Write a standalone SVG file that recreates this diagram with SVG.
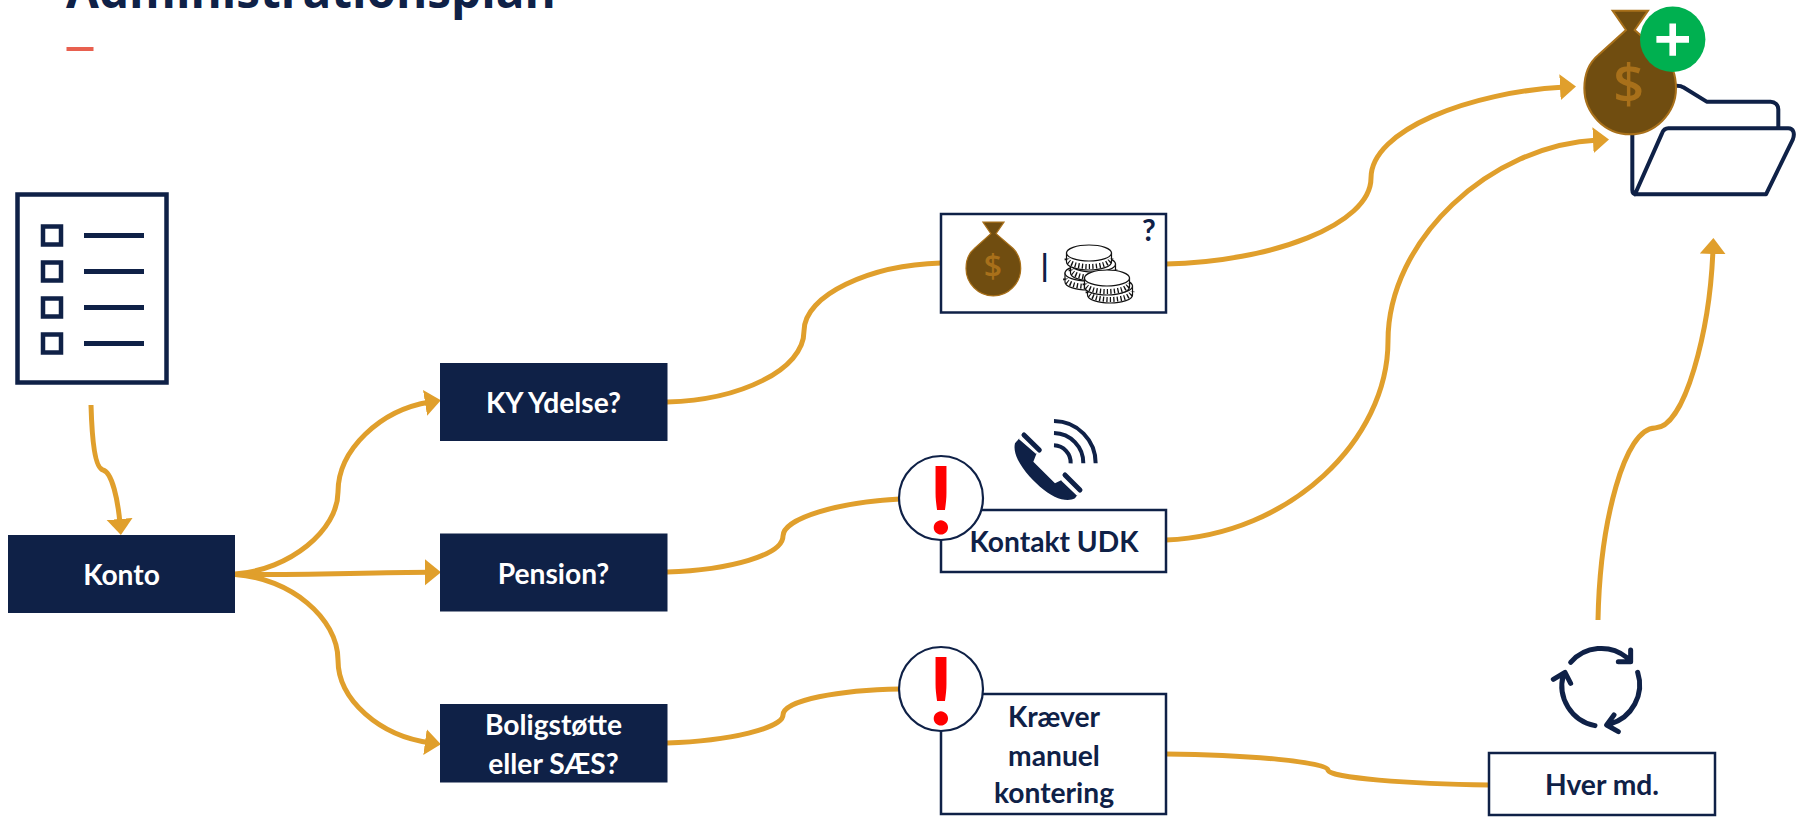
<svg xmlns="http://www.w3.org/2000/svg" xmlns:xlink="http://www.w3.org/1999/xlink" width="1796" height="817" viewBox="0 0 1796 817">
<style>
.lbl{font-family:"Lato","Noto Sans",sans-serif;font-weight:700;font-size:28.200px;text-anchor:middle}
.w{fill:#fff}.n{fill:#0f2147}
.box{fill:#0f2147}
.obox{fill:#fff;stroke:#0f2147;stroke-width:2.5}
.conn{fill:none;stroke:#e09f2c;stroke-width:5}
.ic{fill:none;stroke:#0f2147;stroke-linecap:round;stroke-linejoin:round}
.dollar{font-family:"Open Sans",sans-serif;font-weight:600;fill:#a8701a;text-anchor:middle}
.excl{font-family:"Lato",sans-serif;font-weight:700;font-size:94px;fill:#f00;text-anchor:middle}
.al{fill:#fff;stroke:#0f2147;stroke-width:2.2}
.cs{fill:#fff;stroke:#111;stroke-width:1.2}
</style>
<defs>
<marker id="ah" markerUnits="userSpaceOnUse" markerWidth="18" markerHeight="28" refX="5" refY="13" orient="auto"><path d="M0 0L16 13L0 26Z" fill="#e09f2c"/></marker>
<path id="bag" d="M278 32H384L344 90L430 165C455 190 468 225 468 265C468 340 405 403 330 403C255 403 193 340 193 265C193 225 205 190 235 165L318 90Z" fill="#704d10" stroke="#a8701a" stroke-width="6"/>
<g id="coin"><path class="cs" d="M-22.500 0V9A22.500 8 0 0 0 22.500 9V0Z"/><path d="M-22 5.500A22 8 0 0 0 22 5.500" fill="none" stroke="#111" stroke-width="5" stroke-dasharray="1.300 2.200"/><ellipse class="cs" rx="22.500" ry="8"/></g>
</defs>

<g id="title">
<text x="66" y="8" font-family="Open Sans, sans-serif" font-weight="700" font-size="47.700" fill="#0f2147">Administrationsplan</text>
<rect x="66.500" y="47" width="27" height="4" fill="#e8604f"/>
</g>

<g id="connectors" class="conn-group">
<path class="conn" marker-end="url(#ah)" d="M91 405C92 440 95 468 103 470C112 472 118 500 120 524"/>
<path class="conn" marker-end="url(#ah)" d="M235 574C290 570 338 530 338 492C338 450 380 410 430 402"/>
<path class="conn" marker-end="url(#ah)" d="M235 574.500C300 575 370 572.500 430 572.300"/>
<path class="conn" marker-end="url(#ah)" d="M235 574.500C290 578 338 618 338 660C338 700 380 736 430 742.700"/>
<path class="conn" d="M667 402C740 400 804 370 804 331C804 295 870 265 941 263"/>
<path class="conn" marker-end="url(#ah)" d="M1166 264C1270 262 1371 225 1371 178C1371 130 1470 92 1565 87"/>
<path class="conn" marker-end="url(#ah)" d="M1166 540C1290 535 1388 440 1388 341C1388 240 1490 145 1598 140"/>
<path class="conn" d="M667 572C730 570 783 555 783 536C783 518 840 502 900 499"/>
<path class="conn" d="M667 743C730 741 783 728 783 715C783 700 840 690 900 689"/>
<path class="conn" d="M1166 754C1250 755 1328 762 1328 770C1328 778 1410 784 1489 785"/>
<path class="conn" marker-end="url(#ah)" d="M1598 620C1600 520 1625 428 1655 428C1685 428 1710 330 1713 249"/>
</g>

<g id="checklist">
<rect x="17.500" y="194.500" width="149" height="188" fill="#fff" stroke="#0f2147" stroke-width="4.500"/>
<g fill="none" stroke="#0f2147" stroke-width="4.500">
<rect x="43" y="226.500" width="18" height="18"/><rect x="43" y="262.500" width="18" height="18"/><rect x="43" y="298.500" width="18" height="18"/><rect x="43" y="334.500" width="18" height="18"/>
<path d="M84 235.500H144M84 271.500H144M84 307.500H144M84 343.500H144" stroke-width="5"/>
</g>
</g>

<g id="konto"><rect class="box" x="8" y="535" width="227" height="78"/><text class="lbl w" x="121.500" y="585">Konto</text></g>
<g id="ky-ydelse"><rect class="box" x="440" y="363" width="227.500" height="78"/><text class="lbl w" x="553.500" y="413">KY Ydelse?</text></g>
<g id="pension"><rect class="box" x="440" y="533.500" width="227.500" height="78"/><text class="lbl w" x="553.500" y="583.500">Pension?</text></g>
<g id="boligstotte"><rect class="box" x="440" y="704" width="227.500" height="78.500"/><text class="lbl w" x="553.500" y="735">Boligstøtte</text><text class="lbl w" x="553.500" y="774">eller SÆS?</text></g>

<g id="money-box">
<rect class="obox" x="941" y="214" width="225" height="98.500"/>
<use xlink:href="#bag" transform="translate(927.600 215.700) scale(.199)"/>
<text class="dollar" x="993" y="278" font-size="32">$</text>
<text x="1044.700" y="277" font-family="Lato,sans-serif" font-weight="700" font-size="30" fill="#0f2147" text-anchor="middle">|</text>
<text x="1149" y="241" font-family="Lato,sans-serif" font-weight="700" font-size="30" fill="#0f2147" text-anchor="middle">?</text>
<use xlink:href="#coin" x="1087.500" y="273"/>
<use xlink:href="#coin" x="1093" y="264"/>
<use xlink:href="#coin" x="1089" y="253"/>
<use xlink:href="#coin" x="1110" y="286"/>
<use xlink:href="#coin" x="1107" y="278"/>
</g>

<g id="phone" transform="translate(880 400) scale(.3333)">
<path fill="#0f2147" d="M418 115L470 160L460 185L525 250L545 240L592 285L585 295C560 308 520 295 480 260C440 225 395 170 405 130Z"/>
<path fill="none" stroke="#fff" stroke-width="5" d="M418 115L470 160M545 240L592 285"/>
<path class="ic" stroke-width="15" d="M432 105L478 150M555 225L600 270"/>
<path fill="none" stroke="#0f2147" stroke-width="12" d="M522 136A52 52 0 0 1 572 190M522 99A90 90 0 0 1 610 190M522 63A126 126 0 0 1 647 190"/>
</g>

<g id="kontakt-udk">
<rect class="obox" x="941" y="510" width="225" height="62"/>
<circle class="al" cx="941" cy="498" r="42"/>
<text class="excl" x="941" y="534">!</text>
<text class="lbl n" x="1054" y="552">Kontakt UDK</text>
</g>

<g id="kraever">
<rect class="obox" x="941" y="694" width="225" height="120"/>
<circle class="al" cx="941" cy="689" r="42"/>
<text class="excl" x="941" y="725">!</text>
<text class="lbl n" x="1054" y="726.500">Kræver</text>
<text class="lbl n" x="1054" y="766">manuel</text>
<text class="lbl n" x="1054" y="803">kontering</text>
</g>

<g id="cycle" transform="translate(1480 620) scale(.3333)">
<g class="ic" stroke-width="15">
<path d="M272 127A122 122 0 0 1 440 112M452 90V125H415"/>
<path d="M473 157A122 122 0 0 1 390 312M402 285L380 315L415 335"/>
<path d="M345 317A122 122 0 0 1 250 165M220 178L255 157L272 190"/>
</g>
</g>

<g id="hver-md"><rect class="obox" x="1489" y="753" width="226" height="62"/><text class="lbl n" x="1602" y="795">Hver md.</text></g>

<g id="folder-bag">
<g transform="translate(1520 0) scale(.3333)" fill="none" stroke="#0f2147" stroke-width="12" stroke-linejoin="round" stroke-linecap="round">
<path d="M470 257C480 257 485 258 490 262L560 305H752C765 305 775 315 775 328V383"/>
<path d="M337 400V570C337 578 340 583 350 583H738L818 420C826 400 820 385 805 385H445C435 385 430 390 426 400L345 583"/>
</g>
<use xlink:href="#bag" transform="translate(1520 0) scale(.3333)"/>
<text class="dollar" x="1628.700" y="103" font-size="54">$</text>
<circle cx="1672.700" cy="39.300" r="32.700" fill="#00b050"/>
<path d="M1669.400 23.500h6.600v12.600h13v6.600h-13v13h-6.600v-13h-13v-6.600h13z" fill="#fff"/>
</g>
</svg>
